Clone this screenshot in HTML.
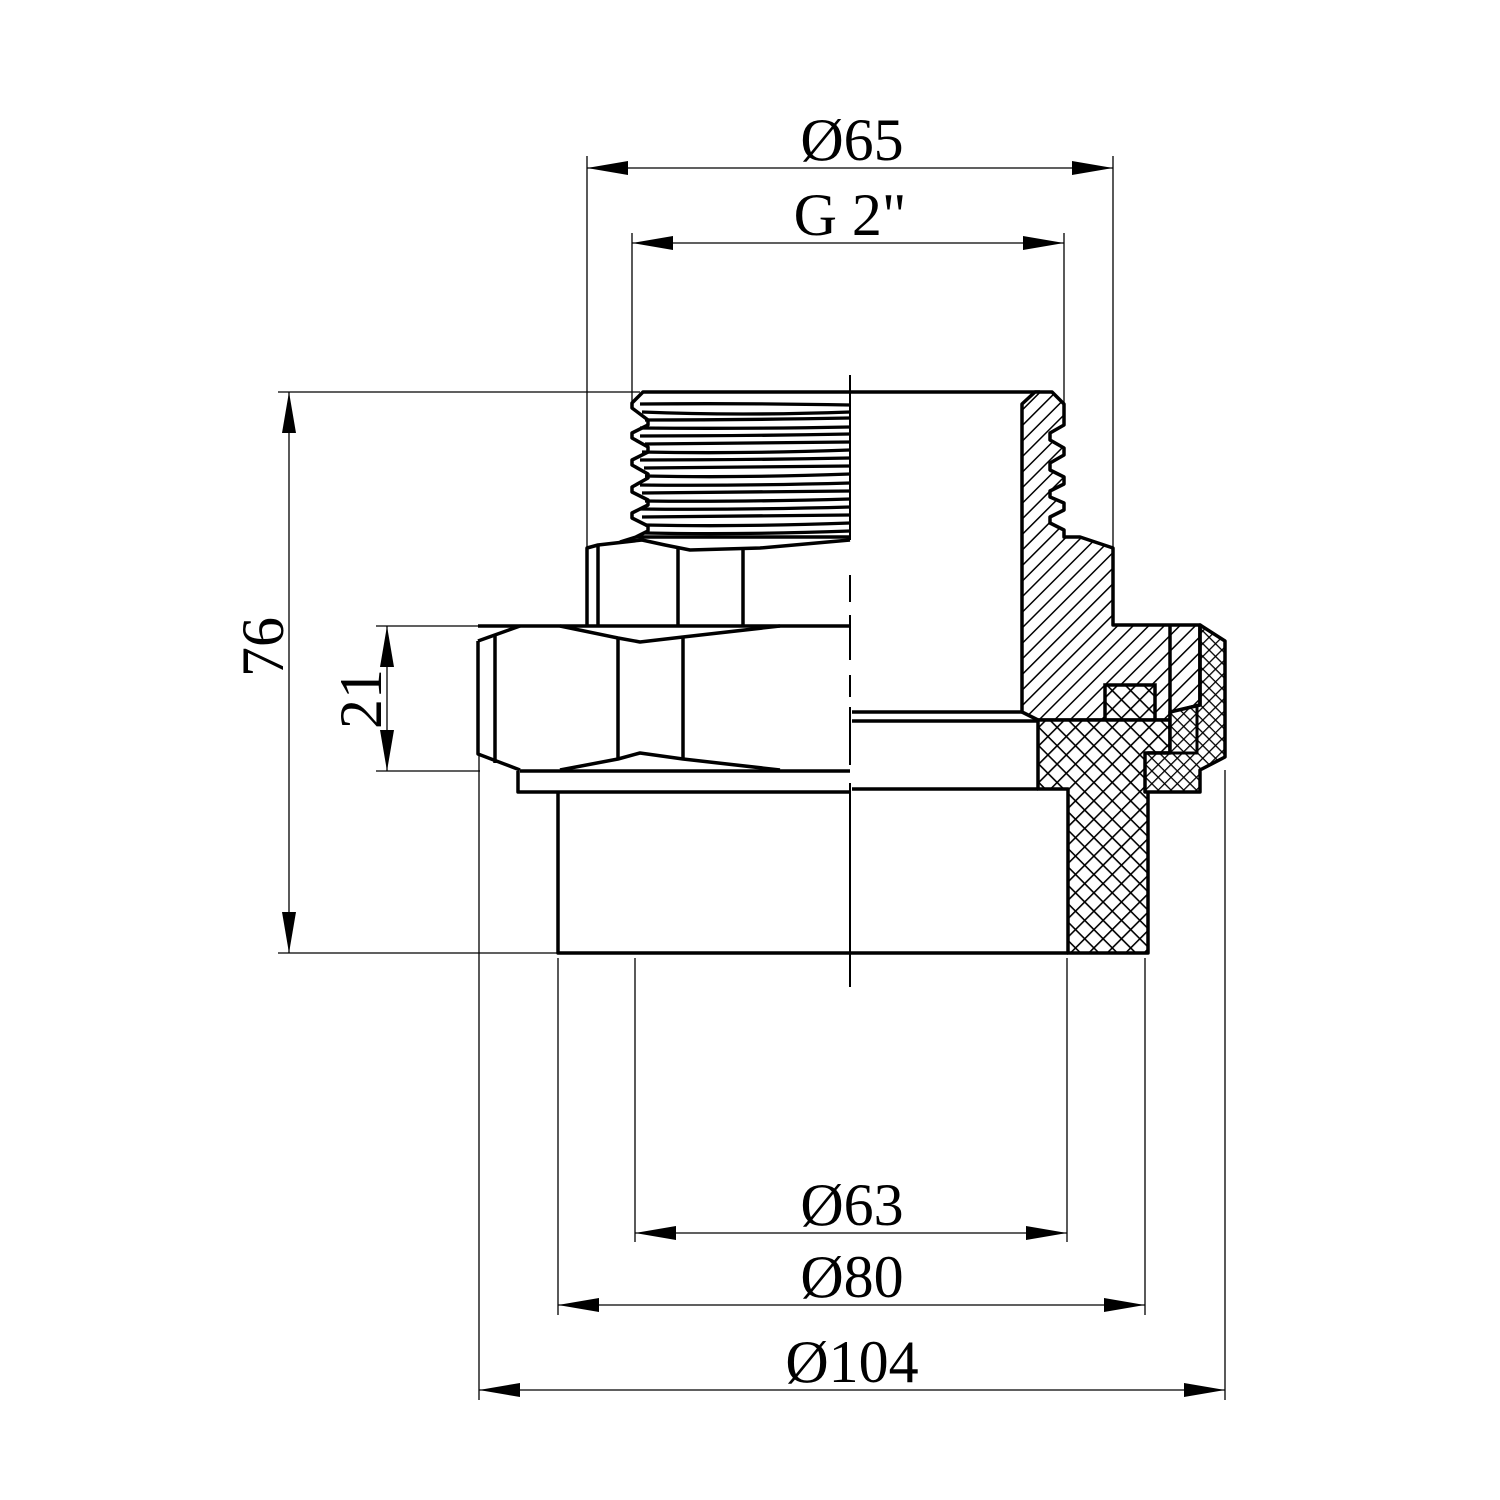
<!DOCTYPE html>
<html><head><meta charset="utf-8"><style>html,body{margin:0;padding:0;background:#fff}svg{display:block}</style></head>
<body>
<svg width="1500" height="1500" viewBox="0 0 1500 1500" xmlns="http://www.w3.org/2000/svg">
<defs>
<pattern id="hatch" patternUnits="userSpaceOnUse" width="11" height="11" patternTransform="rotate(45)">
<rect width="11" height="11" fill="#fff"/><line x1="0" y1="0" x2="0" y2="11" stroke="#000" stroke-width="3"/></pattern>
<pattern id="cross" patternUnits="userSpaceOnUse" width="13" height="13" patternTransform="rotate(45)">
<rect width="13" height="13" fill="#fff"/><line x1="0" y1="0" x2="0" y2="13" stroke="#000" stroke-width="3.2"/><line x1="0" y1="0" x2="13" y2="0" stroke="#000" stroke-width="3.2"/></pattern>
<pattern id="crossf" patternUnits="userSpaceOnUse" width="9" height="9" patternTransform="rotate(45)">
<rect width="9" height="9" fill="#fff"/><line x1="0" y1="0" x2="0" y2="9" stroke="#000" stroke-width="2.6"/><line x1="0" y1="0" x2="9" y2="0" stroke="#000" stroke-width="2.6"/></pattern>
</defs>

<g stroke="#000" stroke-width="1.3" fill="none">
<line x1="587" y1="156" x2="587" y2="548"/>
<line x1="1113" y1="156" x2="1113" y2="548"/>
<line x1="632" y1="233" x2="632" y2="402"/>
<line x1="1064" y1="233" x2="1064" y2="404"/>
<line x1="278" y1="392" x2="640" y2="392"/>
<line x1="278" y1="953" x2="558" y2="953"/>
<line x1="376" y1="626" x2="520" y2="626"/>
<line x1="376" y1="771" x2="480" y2="771"/>
<line x1="635" y1="958" x2="635" y2="1242"/>
<line x1="1067" y1="958" x2="1067" y2="1242"/>
<line x1="558" y1="958" x2="558" y2="1315"/>
<line x1="1145" y1="958" x2="1145" y2="1315"/>
<line x1="479" y1="755" x2="479" y2="1400"/>
<line x1="1225" y1="770" x2="1225" y2="1400"/>
<line x1="587" y1="168" x2="1113" y2="168"/>
<line x1="632" y1="243" x2="1064" y2="243"/>
<line x1="289" y1="392" x2="289" y2="953"/>
<line x1="387" y1="626" x2="387" y2="771"/>
<line x1="635" y1="1233" x2="1067" y2="1233"/>
<line x1="558" y1="1305" x2="1145" y2="1305"/>
<line x1="479" y1="1390" x2="1225" y2="1390"/>
</g>
<g fill="#000">
<polygon points="587,168 628,161 628,175"/><polygon points="1113,168 1072,161 1072,175"/>
<polygon points="632,243 673,236 673,250"/><polygon points="1064,243 1023,236 1023,250"/>
<polygon points="289,392 282,433 296,433"/><polygon points="289,953 282,912 296,912"/>
<polygon points="387,626 380,667 394,667"/><polygon points="387,771 380,730 394,730"/>
<polygon points="635,1233 676,1226 676,1240"/><polygon points="1067,1233 1026,1226 1026,1240"/>
<polygon points="558,1305 599,1298 599,1312"/><polygon points="1145,1305 1104,1298 1104,1312"/>
<polygon points="479,1390 520,1383 520,1397"/><polygon points="1225,1390 1184,1383 1184,1397"/>
</g>
<g font-family="Liberation Serif, serif" font-size="60" fill="#000" text-anchor="middle">
<text x="852" y="160">Ø65</text>
<text x="850" y="235">G 2"</text>
<text x="852" y="1225">Ø63</text>
<text x="852" y="1297">Ø80</text>
<text x="852" y="1382">Ø104</text>
<text transform="translate(283,647) rotate(-90)">76</text>
<text transform="translate(381,699) rotate(-90)">21</text>
</g>

<g stroke="#000" stroke-width="2" fill="none">
<line x1="850" y1="375" x2="850" y2="540"/>
<line x1="850" y1="575" x2="850" y2="602"/>
<line x1="850" y1="615" x2="850" y2="660"/>
<line x1="850" y1="675" x2="850" y2="697"/>
<line x1="850" y1="707" x2="850" y2="765"/>
<line x1="850" y1="783" x2="850" y2="987"/>
</g>

<g stroke="#000" stroke-width="3.5" fill="none" stroke-linejoin="round">
<polyline points="1040,392 643,392 632,403 632,408 648,420 648,425 632,433 632,438 648,447 648,452 632,460 632,465 648,474 648,478 632,487 632,492 648,500 648,505 632,513 632,518 648,526 648,531 636,537 620,542"/>
<g stroke-width="3.3">
<path d="M640,404 Q740,403 850,405"/><path d="M642,412 Q740,416 850,412"/>
<path d="M645,420 Q740,420 850,418"/><path d="M640,428 Q740,429 850,427"/>
<path d="M640,436 Q740,436 850,434"/><path d="M645,444 Q740,443 850,442"/>
<path d="M642,452 Q740,454 850,450"/><path d="M640,460 Q740,460 850,458"/>
<path d="M644,468 Q740,467 850,466"/><path d="M645,476 Q740,478 850,474"/>
<path d="M640,485 Q740,486 850,483"/><path d="M642,493 Q740,492 850,491"/>
<path d="M645,501 Q740,502 850,499"/><path d="M640,509 Q740,510 850,507"/>
<path d="M642,517 Q740,516 850,515"/><path d="M645,525 Q740,527 850,523"/>
<path d="M645,533 Q740,535 850,531"/>
</g>
<line x1="636" y1="537" x2="850" y2="537"/>
<polyline points="587,625 587,548 598,545 642,540 665,545 690,550 760,548 850,540"/>
<line x1="598" y1="545" x2="598" y2="625"/>
<line x1="678" y1="548" x2="678" y2="625"/>
<line x1="743" y1="548" x2="743" y2="625"/>
<line x1="478" y1="626" x2="850" y2="626"/>
<polyline points="478,641 478,754 520,770"/>
<polyline points="478,641 520,626"/>
<line x1="495" y1="635" x2="495" y2="763"/>
<polyline points="560,626 618,638 640,642 683,637 780,626"/>
<polyline points="560,770 618,759 640,753 683,759 780,770"/>
<line x1="618" y1="638" x2="618" y2="759"/>
<line x1="683" y1="637" x2="683" y2="759"/>
<line x1="520" y1="771" x2="850" y2="771"/>
<polyline points="518,771 518,792 850,792"/>
<polyline points="558,792 558,953 1068,953"/>
<line x1="852" y1="712" x2="1022" y2="712"/>
<line x1="852" y1="721" x2="1038" y2="721"/>
<line x1="852" y1="789" x2="1038" y2="789"/>
</g>

<path d="M1022,404 L1035,392 L1052,392 L1064,404 L1064,425 L1050,433 L1050,440 L1064,448 L1064,455 L1050,463 L1050,470 L1064,477 L1064,484 L1050,491 L1050,497 L1064,503 L1064,510 L1050,517 L1050,523 L1064,530 L1064,537 L1080,537 L1113,548 L1113,625 L1200,625 L1200,705 L1172,712 L1170,720 L1038,720 L1022,712 Z" fill="url(#hatch)" stroke="#000" stroke-width="3.5" stroke-linejoin="round"/>
<line x1="1170" y1="625" x2="1170" y2="720" stroke="#000" stroke-width="3.5"/>
<rect x="1105" y="685" width="50" height="35" fill="url(#cross)" stroke="#000" stroke-width="3.5"/>
<path d="M1038,720 L1170,720 L1170,753 L1148,753 L1148,953 L1068,953 L1068,789 L1038,789 Z" fill="url(#cross)" stroke="#000" stroke-width="3.5" stroke-linejoin="round"/>
<path d="M1200,625 L1225,641 L1225,757 L1200,770 L1200,792 L1145,792 L1145,753 L1170,753 L1170,712 L1200,705 Z" fill="url(#crossf)" stroke="#000" stroke-width="3.5" stroke-linejoin="round"/>
<polyline points="1197,705 1197,753 1170,753" fill="none" stroke="#000" stroke-width="3"/>
<line x1="1200" y1="625" x2="1200" y2="705" stroke="#000" stroke-width="3.5"/>
</svg>
</body></html>
